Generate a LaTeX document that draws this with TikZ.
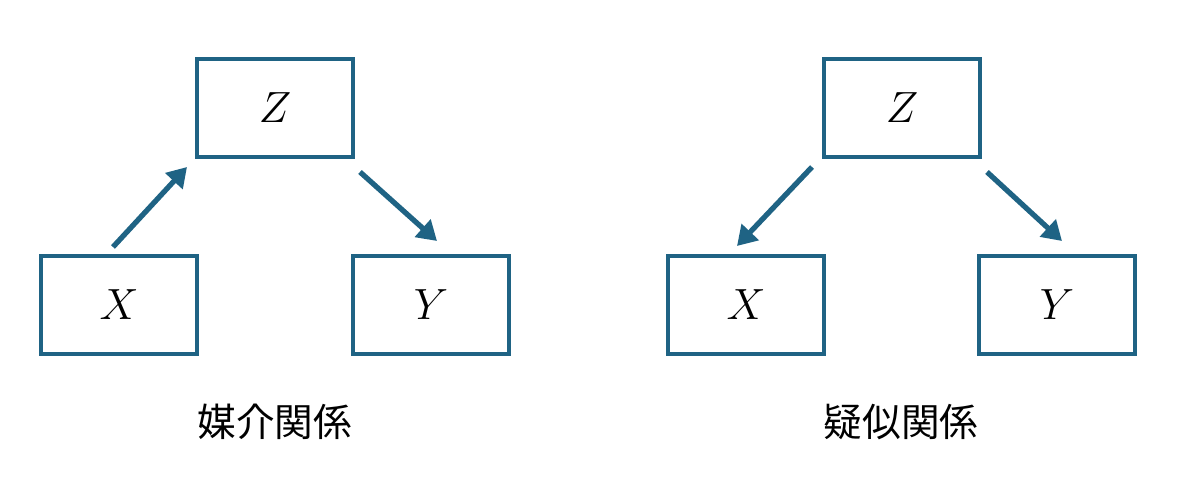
\documentclass[tikz,border=0pt]{standalone}
\usepackage{fontspec}
\newfontfamily\cjk{Noto Sans CJK JP}
\usetikzlibrary{arrows.meta}
\definecolor{bl}{HTML}{1F6384}
\begin{document}
\begin{tikzpicture}[x=0.02cm,y=-0.02cm,
  box/.style={draw=bl,line width=2pt,minimum width=156*0.02cm,minimum height=98*0.02cm,inner sep=0pt,font=\fontsize{25}{30}\selectfont},
  arr/.style={draw=bl,line width=3pt,-{Triangle[length=11pt,width=13pt]}},
  lab/.style={font=\cjk\fontsize{22}{26}\selectfont}]
\useasboundingbox (0,0) rectangle (1178,483);
\node[box] (z1) at (275,108) {$Z$};
\node[box] (x1) at (119,305) {$X$};
\node[box] (y1) at (431,305) {$Y$};
\node[box] (z2) at (902,108) {$Z$};
\node[box] (x2) at (746,305) {$X$};
\node[box] (y2) at (1057,305) {$Y$};
\coordinate (a1) at (113,247); \coordinate (b1) at (187,167);
\coordinate (a2) at (360,172); \coordinate (b2) at (437,241);
\coordinate (a3) at (812,167); \coordinate (b3) at (737,246);
\coordinate (a4) at (987,172); \coordinate (b4) at (1062,241);
\draw[arr] (a1) -- (b1);
\draw[arr] (a2) -- (b2);
\draw[arr] (a3) -- (b3);
\draw[arr] (a4) -- (b4);
\node[lab] (l1) at (275,422) {媒介関係};
\node[lab] (l2) at (901,422) {疑似関係};
\end{tikzpicture}
\end{document}
